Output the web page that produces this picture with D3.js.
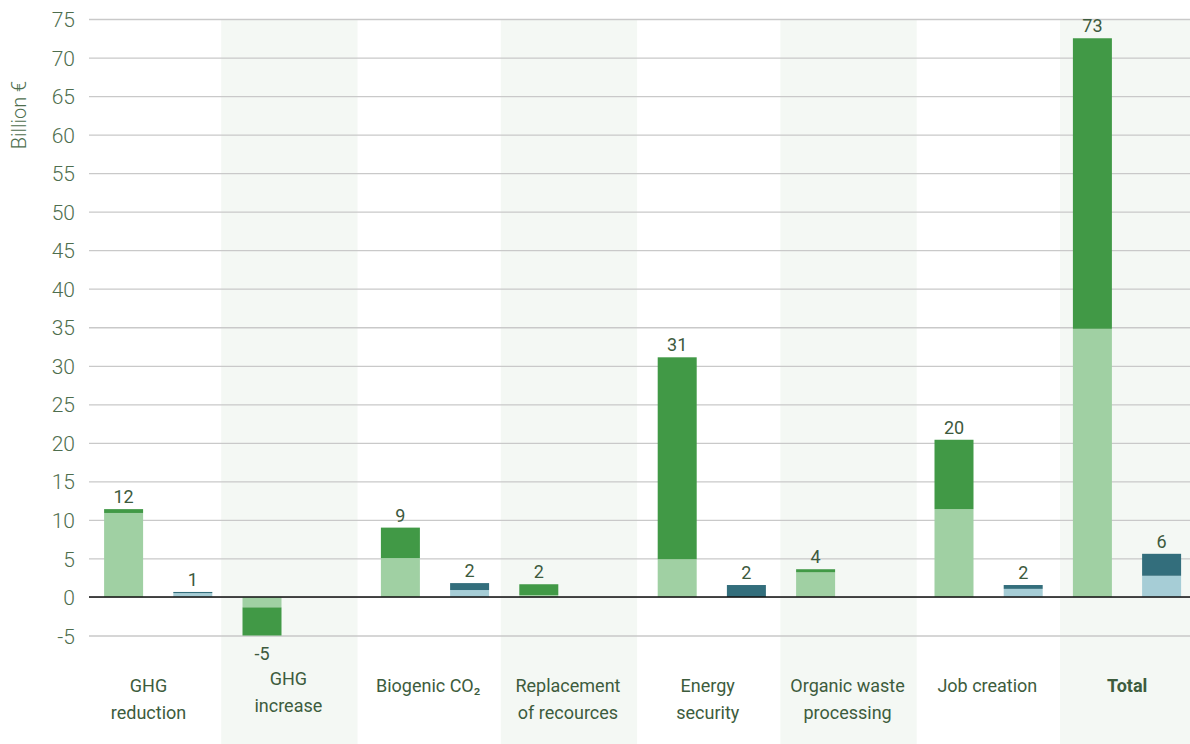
<!DOCTYPE html>
<html>
<head>
<meta charset="utf-8">
<script src="https://cdn.jsdelivr.net/npm/d3@7"></script>
<style>
  html, body { margin: 0; padding: 0; background: #fff; }
  svg { display: block; font-family: Roboto, "Noto Sans", sans-serif; }
</style>
</head>
<body>
<svg id="chart" width="1190" height="744"></svg>
<script>
// ---- data ----
const categories = ["GHG reduction", "GHG increase", "Biogenic CO₂", "Replacement of recources",
  "Energy security", "Organic waste processing", "Job creation", "Total"];
const categoryLines = [["GHG", "reduction"], ["GHG", "increase"], ["Biogenic CO₂"], ["Replacement", "of recources"],
  ["Energy", "security"], ["Organic waste", "processing"], ["Job creation"], ["Total"]];
const greenLight = [10.9, -1.35, 5.05, 0.25, 4.9, 3.2, 11.4, 34.8];
const greenDark  = [0.5, -3.65, 3.95, 1.4, 26.2, 0.4, 9.0, 37.7];
const blueLight  = [0.5, 0, 0.9, 0, 0, 0, 1.05, 2.75];
const blueDark   = [0.15, 0, 0.9, 0, 1.55, 0, 0.5, 2.85];
const greenLabels = ["12", "-5", "9", "2", "31", "4", "20", "73"];
const blueLabels  = ["1", null, "2", null, "2", null, "2", "6"];
const yTicks = [-5, 0, 5, 10, 15, 20, 25, 30, 35, 40, 45, 50, 55, 60, 65, 70, 75];

// ---- layout ----
const W = 1190, H = 744;
const plotLeft = 89, plotTop = 19;
const svg = d3.select("#chart");

const y = d3.scaleLinear().domain([-5, 75]).range([635.5, plotTop]);
const x0 = d3.scaleBand().domain(categories).range([plotLeft, plotLeft + 8 * 138.4]);
const x1 = d3.scaleBand().domain(["green", "blue"]).range([0, x0.bandwidth()]);
const barW = 39;
const xShade = d3.scaleBand().domain(categories).range([81.4, 81.4 + 8 * 139.8]);
const shadeW = xShade.bandwidth() - 3.5;

const colors = {
  greenLight: "#a0d0a3", greenDark: "#419946",
  blueLight: "#a6cdd6", blueDark: "#336e7c"
};
const axisColor = "#4e6e4e";

// shaded alternating columns
svg.append("g").selectAll("rect")
  .data(categories.filter((c, i) => i % 2 === 1))
  .join("rect")
  .attr("x", d => xShade(d))
  .attr("y", plotTop)
  .attr("width", shadeW)
  .attr("height", H - plotTop)
  .attr("fill", "#f4f8f4");

// gridlines + tick labels
const yAxis = d3.axisLeft(y).tickValues(yTicks).tickSize(-(W - plotLeft)).tickFormat(d => String(d));
const ga = svg.append("g").attr("transform", `translate(${plotLeft},0)`).call(yAxis);
ga.select(".domain").remove();
ga.selectAll(".tick line").attr("stroke", "#c9c9c9").attr("stroke-width", 1.3);
ga.selectAll(".tick text")
  .attr("x", -14)
  .attr("dy", "0.36em")
  .attr("fill", axisColor)
  .attr("font-size", 21)
  .attr("font-weight", 300)
  .attr("font-family", "Roboto, sans-serif");

// y axis title
svg.append("text")
  .attr("transform", `translate(25.5,115) rotate(-90)`)
  .attr("text-anchor", "middle")
  .attr("fill", axisColor)
  .attr("font-size", 20)
  .attr("font-weight", 300)
  .text("Billion €");

// bars
const segs = [];
categories.forEach((c, i) => {
  segs.push({ c, s: "green", y0: 0, y1: greenLight[i], fill: colors.greenLight });
  segs.push({ c, s: "green", y0: greenLight[i], y1: greenLight[i] + greenDark[i], fill: colors.greenDark });
  if (blueLight[i] !== 0) segs.push({ c, s: "blue", y0: 0, y1: blueLight[i], fill: colors.blueLight });
  if (blueDark[i] !== 0) segs.push({ c, s: "blue", y0: blueLight[i], y1: blueLight[i] + blueDark[i], fill: colors.blueDark });
});
const bx = d => x0(d.c) + x1(d.s) + (x1.bandwidth() - barW) / 2;
svg.append("g").selectAll("rect")
  .data(segs)
  .join("rect")
  .attr("x", bx)
  .attr("y", d => Math.min(y(d.y0), y(d.y1)))
  .attr("width", barW)
  .attr("height", d => Math.abs(y(d.y0) - y(d.y1)))
  .attr("fill", d => d.fill);

// zero line
svg.append("line")
  .attr("x1", plotLeft).attr("x2", W)
  .attr("y1", y(0)).attr("y2", y(0))
  .attr("stroke", "#111").attr("stroke-width", 1.5);

// value labels
const vlabels = [];
categories.forEach((c, i) => {
  const gt = greenLight[i] + greenDark[i];
  vlabels.push({ c, s: "green", v: gt, t: greenLabels[i] });
  if (blueLabels[i]) vlabels.push({ c, s: "blue", v: blueLight[i] + blueDark[i], t: blueLabels[i] });
});
svg.append("g").selectAll("text")
  .data(vlabels)
  .join("text")
  .attr("x", d => x0(d.c) + x1(d.s) + x1.bandwidth() / 2)
  .attr("y", d => d.v >= 0 ? y(d.v) - 6 : y(d.v) + 24)
  .attr("text-anchor", "middle")
  .attr("fill", "#3d5a3d")
  .attr("font-size", 18)
  .text(d => d.t);

// category labels
const labelX = d => xShade(d) + shadeW / 2 - 1;
const cg = svg.append("g").selectAll("text")
  .data(categories)
  .join("text")
  .attr("x", labelX)
  .attr("y", (d, i) => (greenLight[i] + greenDark[i] < 0 ? 684.5 : 692))
  .attr("text-anchor", "middle")
  .attr("fill", "#3d5c3d")
  .attr("font-size", 18)
  .attr("font-weight", (d, i) => i === categories.length - 1 ? 700 : 400);
cg.each(function (d, i) {
  const t = d3.select(this);
  categoryLines[i].forEach((line, j) => {
    t.append("tspan")
      .attr("x", labelX(d))
      .attr("dy", j === 0 ? 0 : 27)
      .text(line);
  });
});
</script>
</body>
</html>
